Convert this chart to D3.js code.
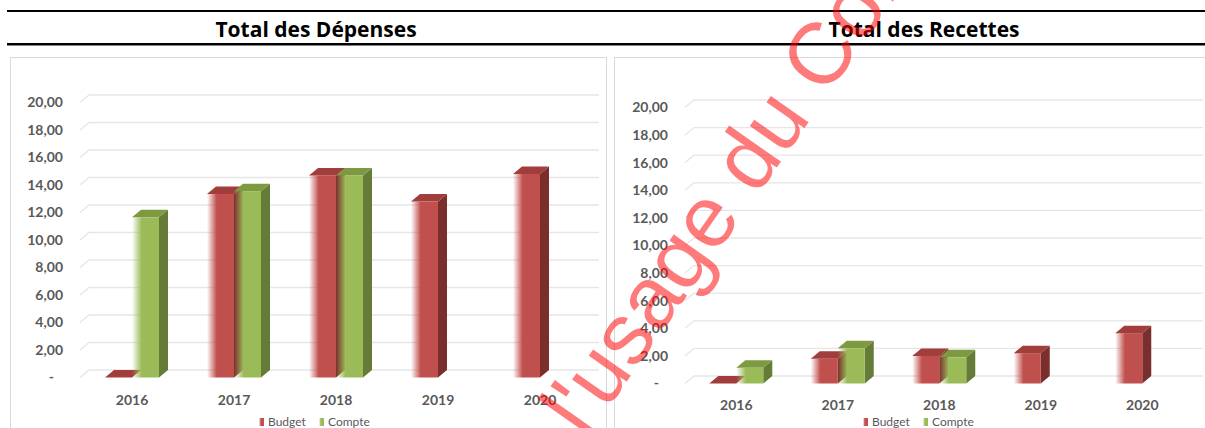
<!DOCTYPE html>
<html>
<head>
<meta charset="utf-8">
<script src="https://cdn.jsdelivr.net/npm/d3@7"></script>
<style>
body { margin: 0; background: #fff; }
svg { display: block; font-family: Lato, "Liberation Sans", sans-serif; }
</style>
</head>
<body>
<svg id="chart" width="1205" height="428"></svg>
<script>
var years = ["2016", "2017", "2018", "2019", "2020"];
var seriesNames = ["Budget", "Compte"];
var depensesBudget = [0, 13.35, 14.7, 12.8, 14.8];
var depensesCompte = [11.65, 13.55, 14.7, null, null];
var recettesBudget = [0, 1.8, 2.0, 2.2, 3.65];
var recettesCompte = [1.15, 2.55, 1.9, null, null];
var yTicks = [0, 2, 4, 6, 8, 10, 12, 14, 16, 18, 20];
var titles = ["Total des Dépenses", "Total des Recettes"];
var watermarkPrefix = "Réservé à ";
var watermarkText = "Réservé à l'usage du Conseil";

var colors = {
    Budget: {front: "#C0504D", top: "#A13D3B", side: "#7A2F2D"},
    Compte: {front: "#9BBB59", top: "#7D9A41", side: "#657C38"}
};
var depth = {dx: 9, dy: -7.5};
var barW = 27;

var svg = d3.select("#chart");

// gradients for the soft left edge of the front faces
var defs = svg.append("defs");
seriesNames.forEach(function(s) {
    var g = defs.append("linearGradient")
        .attr("id", "grad" + s)
        .attr("x1", "0%").attr("x2", "100%")
        .attr("y1", "0%").attr("y2", "0%");
    g.append("stop").attr("offset", "0%").attr("stop-color", colors[s].front).attr("stop-opacity", 0);
    g.append("stop").attr("offset", "36%").attr("stop-color", colors[s].front).attr("stop-opacity", 1);
    g.append("stop").attr("offset", "100%").attr("stop-color", colors[s].front).attr("stop-opacity", 1);
});

// header lines
svg.append("rect").attr("x", 7).attr("y", 10).attr("width", 1198).attr("height", 2).attr("fill", "#000");
svg.append("rect").attr("x", 7).attr("y", 43).attr("width", 1198).attr("height", 2.5).attr("fill", "#000");

function fmt(v) {
    if (v === 0) return "-";
    return d3.format(".2f")(v).replace(".", ",");
}

function drawChart(cfg) {
    var g = svg.append("g");

    g.append("rect")
        .attr("x", cfg.panelX)
        .attr("y", 57.5)
        .attr("width", cfg.panelW)
        .attr("height", 400)
        .attr("fill", "#fff")
        .attr("stroke", "#D9D9D9")
        .attr("stroke-width", 1);

    svg.append("text")
        .attr("x", cfg.titleX)
        .attr("y", 37)
        .attr("text-anchor", "middle")
        .attr("font-family", "'Open Sans', Lato, sans-serif")
        .attr("font-size", "21px")
        .attr("font-weight", "bold")
        .attr("fill", "#000")
        .text(cfg.title);

    var x = d3.scaleBand()
        .domain(years)
        .range(cfg.xRange);
    var x1 = d3.scaleBand()
        .domain(seriesNames)
        .range([-barW, barW]);
    var y = d3.scaleLinear()
        .domain([0, 20])
        .range(cfg.yRange);

    // 3D gridlines on the back wall
    g.selectAll(".grid")
        .data(yTicks)
        .enter()
        .append("path")
        .attr("class", "grid")
        .attr("fill", "none")
        .attr("stroke", "#E6E6E6")
        .attr("stroke-width", 1.3)
        .attr("d", function(v) {
            return "M" + cfg.gridX0 + "," + y(v) +
                "L" + (cfg.gridX0 + depth.dx) + "," + (y(v) + depth.dy) +
                "L" + cfg.gridX1 + "," + (y(v) + depth.dy);
        });

    var yAxis = d3.axisLeft(y)
        .tickValues(yTicks)
        .tickFormat(fmt)
        .tickSize(0)
        .tickPadding(0);
    var ya = g.append("g")
        .attr("transform", "translate(" + cfg.labelX + ",0)")
        .call(yAxis);
    ya.select(".domain").remove();
    ya.selectAll("text")
        .attr("font-family", "Lato, 'Liberation Sans', sans-serif")
        .attr("font-size", "14px")
        .attr("font-weight", "bold")
        .attr("fill", "#595959")
        .attr("dx", function(v) { return v === 0 ? -9 : 0; });

    var xAxis = d3.axisBottom(x).tickSize(0);
    var xa = g.append("g")
        .attr("transform", "translate(0," + cfg.xLabelY + ")")
        .call(xAxis);
    xa.select(".domain").remove();
    xa.selectAll("text")
        .attr("y", 0)
        .attr("dy", "0.35em")
        .attr("font-family", "Lato, 'Liberation Sans', sans-serif")
        .attr("font-size", "14px")
        .attr("font-weight", "bold")
        .attr("fill", "#595959");

    var rows = [];
    years.forEach(function(yr, i) {
        rows.push({year: yr, series: "Budget", value: cfg.budget[i]});
        rows.push({year: yr, series: "Compte", value: cfg.compte[i]});
    });
    rows = rows.filter(function(d) { return d.value !== null; });

    var bar = g.selectAll(".bar")
        .data(rows)
        .enter()
        .append("g")
        .attr("class", "bar");

    function bx(d) { return x(d.year) + x.bandwidth() / 2 + x1(d.series); }

    bar.append("path")
        .attr("fill", function(d) { return colors[d.series].side; })
        .attr("d", function(d) {
            var x0 = bx(d) + barW, yt = y(d.value), yb = y(0);
            return "M" + x0 + "," + yt + "L" + (x0 + depth.dx) + "," + (yt + depth.dy) +
                "L" + (x0 + depth.dx) + "," + (yb + depth.dy) + "L" + x0 + "," + yb + "Z";
        });
    bar.append("path")
        .attr("fill", function(d) { return colors[d.series].top; })
        .attr("d", function(d) {
            var x0 = bx(d), yt = y(d.value);
            return "M" + x0 + "," + yt + "L" + (x0 + depth.dx) + "," + (yt + depth.dy) +
                "L" + (x0 + barW + depth.dx) + "," + (yt + depth.dy) + "L" + (x0 + barW) + "," + yt + "Z";
        });
    bar.append("rect")
        .attr("x", bx)
        .attr("y", function(d) { return y(d.value); })
        .attr("width", barW)
        .attr("height", function(d) { return y(0) - y(d.value); })
        .attr("fill", function(d) { return "url(#grad" + d.series + ")"; });

    // legend
    var legend = g.append("g")
        .attr("transform", "translate(" + cfg.legendX + "," + cfg.legendY + ")");
    var items = legend.selectAll(".legend")
        .data(seriesNames)
        .enter()
        .append("g")
        .attr("class", "legend")
        .attr("transform", function(d, i) { return "translate(" + (i === 0 ? -54 : 6) + ",0)"; });
    items.append("rect")
        .attr("x", 0)
        .attr("y", -4)
        .attr("width", 5)
        .attr("height", 8)
        .attr("fill", function(d) { return "url(#grad" + d + ")"; });
    items.append("text")
        .attr("x", 9)
        .attr("y", 0)
        .attr("dy", "0.35em")
        .attr("font-size", "12px")
        .attr("fill", "#595959")
        .text(function(d) { return d; });
}

drawChart({
    title: titles[0], titleX: 316,
    panelX: 10.5, panelW: 596,
    xRange: [81, 591], yRange: [377.5, 102.5],
    gridX0: 80, gridX1: 599,
    labelX: 63, xLabelY: 400,
    legendX: 313, legendY: 422,
    budget: depensesBudget, compte: depensesCompte
});
drawChart({
    title: titles[1], titleX: 924,
    panelX: 614.5, panelW: 600,
    xRange: [685.5, 1193], yRange: [383.5, 107.5],
    gridX0: 685, gridX1: 1203,
    labelX: 668, xLabelY: 405,
    legendX: 917, legendY: 422,
    budget: recettesBudget, compte: recettesCompte
});

// watermark
var wm = svg.append("text")
    .attr("transform", "translate(586,440) rotate(-55)")
    .attr("font-family", "'Liberation Sans', Arial, sans-serif")
    .attr("font-size", "87px")
    .attr("fill", "#FF0000")
    .attr("fill-opacity", 0.52)
    .text(watermarkText);
var shift = wm.node().getSubStringLength(0, watermarkPrefix.length);
wm.attr("x", -shift);
</script>
</body>
</html>
